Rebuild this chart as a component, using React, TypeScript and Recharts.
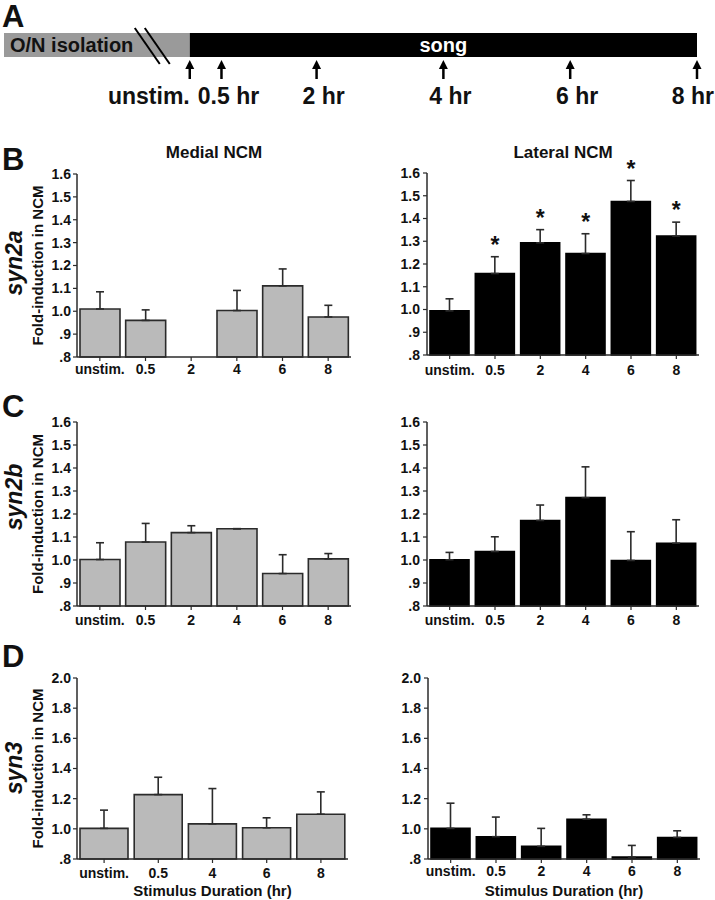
import React from 'react';
import {
  BarChart,
  ComposedChart,
  Bar,
  Line,
  XAxis,
  YAxis,
  ErrorBar,
  LabelList,
} from 'recharts';

// ---- data ----
const HOUR_CATS = ['unstim.', '0.5', '2', '4', '6', '8'];
const HOUR_CATS_NO2 = ['unstim.', '0.5', '4', '6', '8'];

const SYN2A_MEDIAL = [1.01, 0.96, null, 1.003, 1.111, 0.975];
const SYN2A_MEDIAL_SEM = [0.075, 0.046, null, 0.088, 0.074, 0.051];
const SYN2A_LATERAL = [0.994, 1.158, 1.293, 1.246, 1.475, 1.323];
const SYN2A_LATERAL_SEM = [0.053, 0.074, 0.058, 0.087, 0.092, 0.061];
const SYN2A_LATERAL_SIG = [false, true, true, true, true, true];

const SYN2B_MEDIAL = [1.002, 1.078, 1.119, 1.136, 0.941, 1.005];
const SYN2B_MEDIAL_SEM = [0.073, 0.081, 0.03, 0, 0.082, 0.023];
const SYN2B_LATERAL = [1.001, 1.037, 1.172, 1.271, 0.998, 1.073];
const SYN2B_LATERAL_SEM = [0.032, 0.064, 0.067, 0.134, 0.125, 0.102];

const SYN3_MEDIAL = [1.003, 1.227, 1.033, 1.007, 1.097];
const SYN3_MEDIAL_SEM = [0.121, 0.115, 0.234, 0.066, 0.148];
const SYN3_LATERAL = [1.003, 0.948, 0.884, 1.064, 0.813, 0.943];
const SYN3_LATERAL_SEM = [0.167, 0.13, 0.119, 0.029, 0.077, 0.044];

const TICKS_SYN2 = [0.8, 0.9, 1.0, 1.1, 1.2, 1.3, 1.4, 1.5, 1.6];
const TICKS_SYN3 = [0.8, 1.0, 1.2, 1.4, 1.6, 1.8, 2.0];

// timeline (panel A)
const ISOLATION_SPAN = 2.93; // drawn length of the overnight isolation block, in hr
const SONG_HOURS = 8;
const SAMPLE_HOURS = [0, 0.5, 2, 4, 6, 8];
const SAMPLE_LABELS = ['unstim.', '0.5 hr', '2 hr', '4 hr', '6 hr', '8 hr'];

const FONT = '"Liberation Sans", Arial, Helvetica, sans-serif';
const AXIS = '#2b2b2b';
const TEXT = '#111';
const GRAY = '#bababa';

const fmtTick = (v: number) => (v < 1 ? v.toFixed(1).slice(1) : v.toFixed(1));

const renderStar = (p: any) => {
  if (!p.payload || p.payload.star == null || p.cy == null) return <g key={`s-${p.index}`} />;
  return (
    <text key={`s-${p.index}`} x={p.cx} y={p.cy - 4} textAnchor="middle" fontSize={23} fontWeight="bold" fill={TEXT} fontFamily={FONT}>
      *
    </text>
  );
};

interface PanelProps {
  left: number;
  top: number;
  width: number;
  height: number;
  marginTop: number;
  marginRight: number;
  yWidth: number;
  xHeight: number;
  tickMargin: number;
  yTickMargin: number;
  cats: string[];
  means: (number | null)[];
  sems: (number | null)[];
  sig?: boolean[];
  ticks: number[];
  fill: string;
  stroke: string;
  yLabel?: boolean;
  xLabel?: boolean;
}

const Panel: React.FC<PanelProps> = (p) => {
  const data = p.cats.map((c, i) => {
    const m = p.means[i];
    const s = p.sems[i];
    return {
      cat: c,
      mean: m,
      err: m == null || s == null ? undefined : [0, s],
      star: p.sig && p.sig[i] && m != null && s != null ? m + s : null,
    };
  });
  const tickStyle = { fontSize: 14, fontWeight: 'bold', fill: TEXT, fontFamily: FONT };
  return (
    <div style={{ position: 'absolute', left: p.left, top: p.top }}>
      <ComposedChart
        width={p.width}
        height={p.height}
        data={data}
        margin={{ top: p.marginTop, right: p.marginRight, bottom: 0, left: 0 }}
        barCategoryGap={3}
      >
        <XAxis
          dataKey="cat"
          type="category"
          height={p.xHeight}
          interval={0}
          tickSize={4}
          tickMargin={p.tickMargin}
          axisLine={{ stroke: AXIS, strokeWidth: 1.5 }}
          tickLine={{ stroke: AXIS, strokeWidth: 1.2 }}
          tick={tickStyle}
          label={
            p.xLabel
              ? {
                  value: 'Stimulus Duration (hr)',
                  position: 'insideBottom',
                  offset: 4,
                  style: { fontSize: 15, fontWeight: 'bold', fill: TEXT, fontFamily: FONT },
                }
              : undefined
          }
        />
        <YAxis
          type="number"
          domain={[p.ticks[0], p.ticks[p.ticks.length - 1]]}
          ticks={p.ticks}
          interval={0}
          width={p.yWidth}
          tickSize={4}
          tickMargin={p.yTickMargin}
          tickFormatter={fmtTick}
          axisLine={{ stroke: AXIS, strokeWidth: 1.5 }}
          tickLine={{ stroke: AXIS, strokeWidth: 1.2 }}
          tick={{ fontSize: 14, fontWeight: 'bold', fill: TEXT, fontFamily: FONT }}
          label={
            p.yLabel
              ? {
                  value: 'Fold-induction in NCM',
                  angle: -90,
                  position: 'insideLeft',
                  offset: 38,
                  style: { textAnchor: 'middle', fontSize: 15, fontWeight: 'bold', fill: TEXT, fontFamily: FONT },
                }
              : undefined
          }
        />
        <Bar dataKey="mean" fill={p.fill} stroke={p.stroke} strokeWidth={1.6} isAnimationActive={false}>
          <ErrorBar dataKey="err" width={4} stroke={AXIS} strokeWidth={1.6} direction="y" />
        </Bar>
        <Line
          dataKey="star"
          stroke="none"
          dot={renderStar}
          activeDot={false}
          legendType="none"
          isAnimationActive={false}
        />
      </ComposedChart>
    </div>
  );
};

const renderIsolation = (p: any) => {
  const l = Math.min(p.x, p.x + p.width);
  const r = Math.max(p.x, p.x + p.width);
  const t = p.y;
  const b = p.y + p.height;
  return (
    <g>
      <rect x={l} y={t} width={r - l} height={b - t} fill={p.fill} />
      <line x1={r - 55} y1={t - 5} x2={r - 30} y2={b + 7} stroke="#000" strokeWidth={2} />
      <line x1={r - 45} y1={t - 5} x2={r - 20} y2={b + 7} stroke="#000" strokeWidth={2} />
    </g>
  );
};

const renderArrowTick = (p: any) => {
  const { x, y, payload } = p;
  const i = SAMPLE_HOURS.indexOf(payload.value);
  const last = i === SAMPLE_HOURS.length - 1;
  const anchor = i === 0 || last ? 'end' : 'middle';
  const dx = i === 0 ? 0 : last ? 17 : 7;
  return (
    <g>
      <line x1={x} y1={y + 9} x2={x} y2={y + 22} stroke="#000" strokeWidth={2.5} />
      <polygon points={`${x - 4.5},${y + 12} ${x + 4.5},${y + 12} ${x},${y + 3}`} fill="#000" />
      <text x={x + dx} y={y + 47} textAnchor={anchor} fontSize={23} fontWeight="bold" fill={TEXT} fontFamily={FONT}>
        {SAMPLE_LABELS[i]}
      </text>
    </g>
  );
};

const Timeline: React.FC = () => {
  const data = [
    { row: 'time', isolation: -ISOLATION_SPAN, song: SONG_HOURS, isoLabel: 'O/N isolation', songLabel: 'song' },
  ];
  return (
    <div style={{ position: 'absolute', left: 0, top: 0 }}>
      <BarChart
        layout="vertical"
        width={715}
        height={120}
        data={data}
        margin={{ top: 33, right: 18, bottom: 0, left: 4 }}
        stackOffset="sign"
        barCategoryGap={0}
      >
        <XAxis
          type="number"
          domain={[-ISOLATION_SPAN, SONG_HOURS]}
          ticks={SAMPLE_HOURS}
          interval={0}
          allowDataOverflow
          height={63}
          axisLine={false}
          tickLine={false}
          tickSize={0}
          tickMargin={0}
          tick={renderArrowTick}
        />
        <YAxis type="category" dataKey="row" hide />
        <Bar dataKey="isolation" stackId="t" fill="#9a9a9a" shape={renderIsolation} isAnimationActive={false}>
          <LabelList
            dataKey="isoLabel"
            content={(lp: any) => (
              <text
                x={Math.min(lp.x, lp.x + lp.width) + 6}
                y={lp.y + lp.height / 2 + 7}
                fontSize={20}
                fontWeight="bold"
                fill={TEXT}
                fontFamily={FONT}
              >
                {lp.value}
              </text>
            )}
          />
        </Bar>
        <Bar dataKey="song" stackId="t" fill="#000" isAnimationActive={false}>
          <LabelList
            dataKey="songLabel"
            position="center"
            fill="#fff"
            style={{ fontSize: 20, fontWeight: 'bold', fontFamily: FONT }}
          />
        </Bar>
      </BarChart>
    </div>
  );
};

export default function App() {
  const letter = { fontSize: 31, fontWeight: 'bold' as const, fill: TEXT, fontFamily: FONT };
  const title = { fontSize: 17, fontWeight: 'bold' as const, fill: TEXT, fontFamily: FONT };
  const gene = { fontSize: 23, fontWeight: 'bold' as const, fontStyle: 'italic' as const, fill: TEXT, fontFamily: FONT };
  return (
    <div style={{ position: 'absolute', left: 0, top: 0, width: 715, height: 900, background: '#fff', fontFamily: FONT }}>
      <Timeline />

      <Panel left={0} top={140} width={360} height={250} marginTop={34} marginRight={9} yWidth={77} xHeight={33}
        tickMargin={3} yTickMargin={2} cats={HOUR_CATS} means={SYN2A_MEDIAL} sems={SYN2A_MEDIAL_SEM}
        ticks={TICKS_SYN2} fill={GRAY} stroke={AXIS} yLabel />
      <Panel left={360} top={140} width={355} height={250} marginTop={33} marginRight={16} yWidth={67} xHeight={35}
        tickMargin={6} yTickMargin={3} cats={HOUR_CATS} means={SYN2A_LATERAL} sems={SYN2A_LATERAL_SEM}
        sig={SYN2A_LATERAL_SIG} ticks={TICKS_SYN2} fill="#000" stroke="#000" />

      <Panel left={0} top={390} width={360} height={250} marginTop={32} marginRight={9} yWidth={77} xHeight={34}
        tickMargin={5} yTickMargin={2} cats={HOUR_CATS} means={SYN2B_MEDIAL} sems={SYN2B_MEDIAL_SEM}
        ticks={TICKS_SYN2} fill={GRAY} stroke={AXIS} yLabel />
      <Panel left={360} top={390} width={355} height={250} marginTop={32} marginRight={16} yWidth={67} xHeight={34}
        tickMargin={5} yTickMargin={3} cats={HOUR_CATS} means={SYN2B_LATERAL} sems={SYN2B_LATERAL_SEM}
        ticks={TICKS_SYN2} fill="#000" stroke="#000" />

      <Panel left={0} top={645} width={360} height={255} marginTop={33} marginRight={12} yWidth={77} xHeight={41}
        tickMargin={5} yTickMargin={2} cats={HOUR_CATS_NO2} means={SYN3_MEDIAL} sems={SYN3_MEDIAL_SEM}
        ticks={TICKS_SYN3} fill={GRAY} stroke={AXIS} yLabel xLabel />
      <Panel left={360} top={645} width={355} height={255} marginTop={33} marginRight={15} yWidth={68} xHeight={41}
        tickMargin={3} yTickMargin={3} cats={HOUR_CATS} means={SYN3_LATERAL} sems={SYN3_LATERAL_SEM}
        ticks={TICKS_SYN3} fill="#000" stroke="#000" xLabel />

      <svg width={715} height={900} style={{ position: 'absolute', left: 0, top: 0, pointerEvents: 'none' }}>
        <text x={2} y={27} {...letter}>A</text>
        <text x={2} y={170} {...letter}>B</text>
        <text x={2} y={417} {...letter}>C</text>
        <text x={2} y={667} {...letter}>D</text>
        <text x={214} y={158} textAnchor="middle" {...title}>Medial NCM</text>
        <text x={563} y={158} textAnchor="middle" {...title}>Lateral NCM</text>
        <text transform="translate(22,263) rotate(-90)" textAnchor="middle" {...gene}>syn2a</text>
        <text transform="translate(22,497) rotate(-90)" textAnchor="middle" {...gene}>syn2b</text>
        <text transform="translate(22,768) rotate(-90)" textAnchor="middle" {...gene}>syn3</text>
      </svg>
    </div>
  );
}
